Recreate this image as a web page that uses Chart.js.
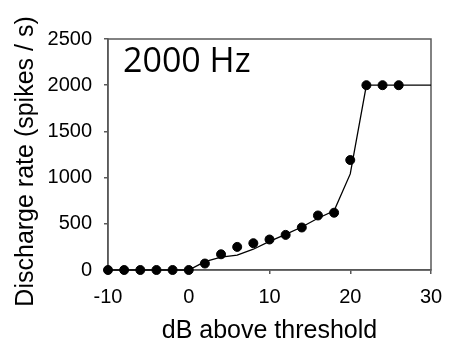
<!DOCTYPE html>
<html>
<head>
<meta charset="utf-8">
<script src="https://cdn.jsdelivr.net/npm/chart.js@4/dist/chart.umd.min.js"></script>
<style>
  html, body { margin: 0; padding: 0; background: #fff; }
  #wrap { width: 462px; height: 348px; }
</style>
</head>
<body>
<div id="wrap"><canvas id="chart"></canvas></div>
<script>
// measured points
const dB = [-10, -8, -6, -4, -2, 0, 2, 4, 6, 8, 10, 12, 14, 16, 18, 20, 22, 24, 26];
const rate = [0, 0, 0, 0, 0, 0, 70, 170, 250, 290, 330, 380, 460, 590, 620, 1190, 2000, 2000, 2000];

// model curve
const fitDB = [-10, -8, -6, -4, -2, 0, 2, 4, 6, 8, 10, 12, 14, 16, 18, 20, 22, 24, 26, 28, 30];
const fitRate = [0, 0, 0, 0, 0, 0, 90, 140, 160, 225, 310, 385, 465, 560, 640, 1040, 2000, 2000, 2000, 2000, 2000];

const xTicks = [-10, 0, 10, 20, 30];
const yTicks = [0, 500, 1000, 1500, 2000, 2500];
const panelLabel = '2000 Hz';

const FONT = "'Liberation Sans', Arial, sans-serif";
const AXIS = '#595959';

// frame round the plot + panel label
const framePlugin = {
    id: 'frame',
    beforeDatasetsDraw(c) {
        const a = c.chartArea;
        const ctx = c.ctx;
        ctx.save();
        ctx.strokeStyle = AXIS;
        ctx.lineWidth = 1.5;
        ctx.strokeRect(a.left, a.top, a.right - a.left, a.bottom - a.top);
        ctx.fillStyle = '#000';
        ctx.font = "34px 'Open Sans', sans-serif";
        ctx.textBaseline = 'alphabetic';
        ctx.fillText(panelLabel, a.left + 15, a.top + 33);
        ctx.restore();
    }
};

const chart = document.querySelector('#chart').getContext('2d');

new Chart(chart, {
    type: 'scatter',
    data: {
        datasets: [
            {
                label: 'model',
                data: fitDB.map((x, i) => ({ x: x, y: fitRate[i] })),
                showLine: true,
                borderColor: '#000',
                borderWidth: 1.3,
                pointRadius: 0,
                clip: false,
                order: 2
            },
            {
                label: 'data',
                data: dB.map((x, i) => ({ x: x, y: rate[i] })),
                showLine: false,
                backgroundColor: '#000',
                borderColor: '#000',
                pointRadius: 4.5,
                clip: false,
                order: 1
            }
        ]
    },
    options: {
        responsive: true,
        maintainAspectRatio: false,
        animation: false,
        layout: { padding: { left: 0, right: 31, top: 39, bottom: 0 } },
        plugins: {
            legend: { display: false },
            tooltip: { enabled: false }
        },
        scales: {
            x: {
                type: 'linear',
                min: -10,
                max: 30,
                afterBuildTicks: s => { s.ticks = xTicks.map(v => ({ value: v })); },
                afterFit: s => { s.height = 78; },
                border: { display: true, color: AXIS, width: 1.5 },
                grid: { display: true, drawOnChartArea: false, drawTicks: true, tickLength: 4, color: AXIS, lineWidth: 1.5 },
                ticks: { color: '#000', font: { family: FONT, size: 20 }, padding: 11, maxRotation: 0, callback: v => String(v) },
                title: {
                    display: true,
                    text: 'dB above threshold',
                    color: '#000',
                    font: { family: FONT, size: 25 },
                    padding: { top: 0, bottom: 2 }
                }
            },
            y: {
                min: 0,
                max: 2500,
                afterBuildTicks: s => { s.ticks = yTicks.map(v => ({ value: v })); },
                afterFit: s => { s.width = 108; },
                border: { display: true, color: AXIS, width: 1.5 },
                grid: { display: true, drawOnChartArea: false, drawTicks: true, tickLength: 4, color: AXIS, lineWidth: 1.5 },
                ticks: { color: '#000', font: { family: FONT, size: 20 }, padding: 12, callback: v => String(v) },
                title: {
                    display: true,
                    // two trailing spaces push the rotated title down a little, as in the original
                    text: 'Discharge rate (spikes / s)  ',
                    color: '#000',
                    font: { family: FONT, size: 25 },
                    padding: { top: 11, bottom: 0 }
                }
            }
        }
    },
    plugins: [framePlugin]
});
</script>
</body>
</html>
